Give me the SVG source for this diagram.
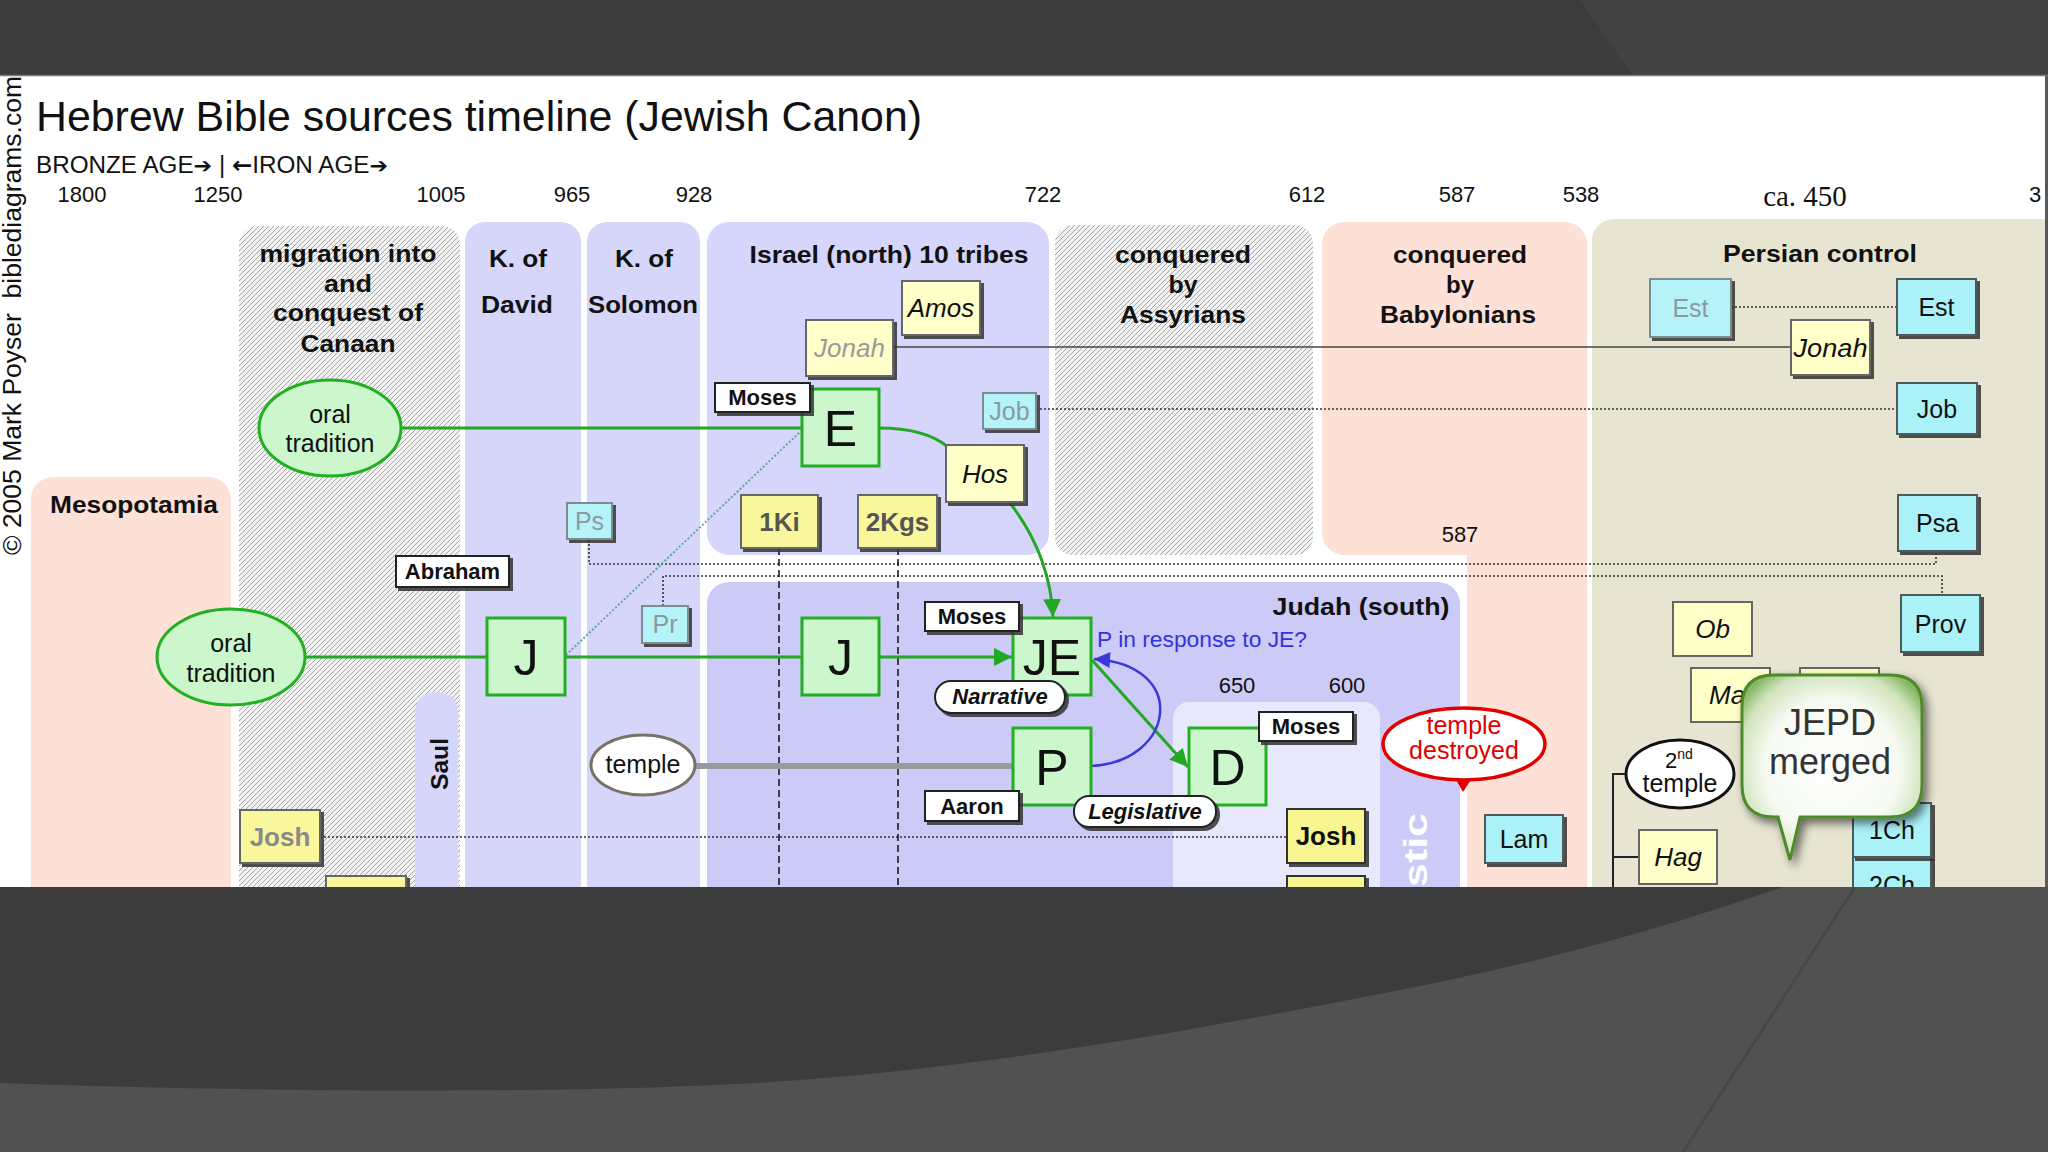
<svg xmlns="http://www.w3.org/2000/svg" width="2048" height="1152" viewBox="0 0 2048 1152">
<style>
text{font-family:"Liberation Sans",Arial,sans-serif;fill:#111}
.yr{font-size:22px;text-anchor:middle}
.rg{font-size:24px;font-weight:bold;text-anchor:middle}
.big{font-size:50px;text-anchor:middle}
.bx{font-size:25px;text-anchor:middle}
.it{font-size:26px;font-style:italic;text-anchor:middle}
.bb{font-size:26px;font-weight:bold;text-anchor:middle}
.lb{font-size:22px;font-weight:bold;text-anchor:middle}
.pl{font-size:22px;font-weight:bold;font-style:italic;text-anchor:middle}
.ar{font-family:"DejaVu Sans",sans-serif;font-weight:bold}
.gr{fill:#8a9aa0}
.gbox{fill:#ccf6cc;stroke:#22b022;stroke-width:3}
.cy{fill:#aaf2f8;stroke:#4f5a5c;stroke-width:2}
.cyf{fill:#b6f3f8;stroke:#7a8e92;stroke-width:2}
.yl{fill:#f9f79c;stroke:#666;stroke-width:2}
.cr{fill:#ffffc9;stroke:#666;stroke-width:2}
.wl{fill:#fff;stroke:#222;stroke-width:2}
.sh{filter:url(#ds)}
.gl{fill:none;stroke:#22a822;stroke-width:3}
.dot{fill:none;stroke:#333;stroke-width:1.6;stroke-dasharray:2 2}
.dash{fill:none;stroke:#111;stroke-width:1.5;stroke-dasharray:7 4}
</style>
<defs>
<filter id="ds" x="-20%" y="-20%" width="150%" height="150%"><feDropShadow dx="3" dy="3" stdDeviation="0.6" flood-color="#333" flood-opacity="0.85"/></filter>
<filter id="soft" x="-20%" y="-20%" width="150%" height="150%"><feDropShadow dx="4" dy="5" stdDeviation="5" flood-color="#000" flood-opacity="0.55"/></filter>
<pattern id="hatch" width="5" height="5" patternUnits="userSpaceOnUse"><rect width="5" height="5" fill="#f2f2f2"/><path d="M0,5 L5,0 M-1,1 L1,-1 M4,6 L6,4" stroke="#a6a6a6" stroke-width="1"/></pattern>
<radialGradient id="jg" cx="0.5" cy="0.5" r="0.62"><stop offset="0" stop-color="#ffffff"/><stop offset="0.6" stop-color="#f6faf1"/><stop offset="0.85" stop-color="#cfe3bc"/><stop offset="1" stop-color="#86b763"/></radialGradient>
<marker id="ga" viewBox="0 0 10 10" refX="10" refY="5" markerWidth="18" markerHeight="18" markerUnits="userSpaceOnUse" orient="auto"><path d="M0,0 L10,5 L0,10 z" fill="#22a822"/></marker>
<marker id="ba" viewBox="0 0 10 10" refX="10" refY="5" markerWidth="20" markerHeight="16" markerUnits="userSpaceOnUse" orient="auto"><path d="M0,0 L10,5 L0,10 z" fill="#3a3ad8"/></marker>
<clipPath id="panel"><rect x="0" y="76" width="2045" height="811"/></clipPath>
</defs>

<!-- slide background -->
<rect width="2048" height="1152" fill="#3c3c3c"/>
<polygon points="1580,0 2048,0 2048,76 1633,76" fill="#424242"/>
<path d="M0,1083 C250,1092 600,1095 800,1080 C1000,1065 1200,1030 1440,982 C1600,948 1700,915 1783,887 L2048,887 L2048,1152 L0,1152 Z" fill="#515151"/>
<path d="M1855,887 L1683,1152" stroke="#474747" stroke-width="3"/>
<rect x="0" y="76" width="2045" height="811" fill="#fff"/>
<line x1="0" y1="75.5" x2="2048" y2="75.5" stroke="#7a7a7a" stroke-width="1.5"/>
<rect x="2045" y="76" width="3" height="811" fill="#5a5a5a"/>

<g clip-path="url(#panel)">
<!-- regions -->
<g id="regions">
<rect x="31" y="477" width="200" height="520" rx="22" fill="#fde0d6"/>
<rect x="239" y="226" width="221" height="760" rx="18" fill="url(#hatch)"/>
<rect x="465" y="222" width="116" height="760" rx="20" fill="#d6d6fb"/>
<rect x="587" y="222" width="113" height="760" rx="20" fill="#d6d6fb"/>
<rect x="707" y="222" width="342" height="333" rx="22" fill="#d6d5fb"/>
<rect x="1055" y="225" width="258" height="330" rx="18" fill="url(#hatch)"/>
<rect x="1322" y="222" width="265" height="333" rx="22" fill="#fde0d6"/>
<rect x="1467" y="400" width="120" height="600" fill="#fde0d6"/>
<rect x="1592" y="219" width="470" height="800" rx="22" fill="#e7e4d2"/>
<rect x="707" y="582" width="753" height="420" rx="22" fill="#cccaf6"/>
<rect x="1173" y="702" width="207" height="300" rx="16" fill="#e8e8fc"/>
<rect x="415" y="692" width="43" height="300" rx="20" fill="#d6d6fb"/>

<text class="rg" x="134" y="513" textLength="168" lengthAdjust="spacingAndGlyphs">Mesopotamia</text>
<text class="rg" x="348" y="262" textLength="177" lengthAdjust="spacingAndGlyphs">migration into</text>
<text class="rg" x="348" y="292" textLength="48" lengthAdjust="spacingAndGlyphs">and</text>
<text class="rg" x="348" y="321" textLength="150" lengthAdjust="spacingAndGlyphs">conquest of</text>
<text class="rg" x="348" y="352" textLength="95" lengthAdjust="spacingAndGlyphs">Canaan</text>
<text class="rg" x="518" y="267" textLength="58" lengthAdjust="spacingAndGlyphs">K. of</text>
<text class="rg" x="517" y="313" textLength="72" lengthAdjust="spacingAndGlyphs">David</text>
<text class="rg" x="644" y="267" textLength="58" lengthAdjust="spacingAndGlyphs">K. of</text>
<text class="rg" x="643" y="313" textLength="110" lengthAdjust="spacingAndGlyphs">Solomon</text>
<text class="rg" x="889" y="263" textLength="279" lengthAdjust="spacingAndGlyphs">Israel (north) 10 tribes</text>
<text class="rg" x="1183" y="263" textLength="136" lengthAdjust="spacingAndGlyphs">conquered</text>
<text class="rg" x="1183" y="293" textLength="29" lengthAdjust="spacingAndGlyphs">by</text>
<text class="rg" x="1183" y="323" textLength="126" lengthAdjust="spacingAndGlyphs">Assyrians</text>
<text class="rg" x="1460" y="263" textLength="134" lengthAdjust="spacingAndGlyphs">conquered</text>
<text class="rg" x="1460" y="293" textLength="28" lengthAdjust="spacingAndGlyphs">by</text>
<text class="rg" x="1458" y="323" textLength="156" lengthAdjust="spacingAndGlyphs">Babylonians</text>
<text class="rg" x="1820" y="262" textLength="194" lengthAdjust="spacingAndGlyphs">Persian control</text>
<text class="rg" x="1361" y="615" textLength="177" lengthAdjust="spacingAndGlyphs">Judah (south)</text>
<text class="rg" transform="translate(448,764) rotate(-90)" x="0" y="0" font-size="25" textLength="52" lengthAdjust="spacingAndGlyphs">Saul</text>
<text transform="translate(1427,887) rotate(-90)" x="0" y="0" font-size="34" font-weight="bold" style="fill:#fff" textLength="74" lengthAdjust="spacingAndGlyphs">stic</text>
</g>

<!-- header texts -->
<g id="header">
<text x="36" y="131" font-size="42" textLength="886" lengthAdjust="spacingAndGlyphs">Hebrew Bible sources timeline (Jewish Canon)</text>
<text x="36" y="173" font-size="23" textLength="352" lengthAdjust="spacingAndGlyphs">BRONZE AGE<tspan class="ar" font-size="21">➔</tspan> | <tspan class="ar" font-size="23">←</tspan>IRON AGE<tspan class="ar" font-size="21">➔</tspan></text>
<text transform="translate(21,555) rotate(-90)" x="0" y="0" font-size="25" textLength="479" lengthAdjust="spacingAndGlyphs">© 2005 Mark Poyser&#160;&#160;biblediagrams.com</text>
<text class="yr" x="82" y="202">1800</text>
<text class="yr" x="218" y="202">1250</text>
<text class="yr" x="441" y="202">1005</text>
<text class="yr" x="572" y="202">965</text>
<text class="yr" x="694" y="202">928</text>
<text class="yr" x="1043" y="202">722</text>
<text class="yr" x="1307" y="202">612</text>
<text class="yr" x="1457" y="202">587</text>
<text class="yr" x="1581" y="202">538</text>
<text x="1805" y="206" font-size="29" text-anchor="middle" style="font-family:'Liberation Serif','Times New Roman',serif">ca. 450</text>
<text x="2029" y="202" font-size="22">3</text>
<text class="yr" x="1460" y="542">587</text>
<text class="yr" x="1237" y="693">650</text>
<text class="yr" x="1347" y="693">600</text>
<text x="1097" y="647" font-size="22" style="fill:#3434d8" textLength="210" lengthAdjust="spacingAndGlyphs">P in response to JE?</text>
</g>

<!-- connectors -->
<g id="connectors">
<path class="dot" d="M589,540 V564 H1936 V552"/>
<path class="dot" d="M663,606 V576 H1942 V595"/>
<path class="dot" d="M1036,409 H1897"/>
<path class="dot" d="M1731,307 H1897"/>
<path class="dot" d="M320,837 H1287"/>
<path d="M893,347 H1791" stroke="#444" stroke-width="1.5" fill="none"/>
<path class="dash" d="M779,548 V890"/>
<path class="dash" d="M898,548 V890"/>
<path d="M566,655 L800,432" stroke="#5fa898" stroke-width="2" stroke-dasharray="2 2" fill="none"/>
<path d="M695,766 H1013" stroke="#9a9a9a" stroke-width="6" fill="none"/>
<path class="gl" d="M402,428 H802"/>
<path class="gl" d="M305,657 H487"/>
<path class="gl" d="M565,657 H802"/>
<path class="gl" d="M879,657 H1012" marker-end="url(#ga)"/>
<path class="gl" d="M879,428 Q925,428 948,447"/>
<path class="gl" d="M1010,503 Q1050,555 1053,617" marker-end="url(#ga)"/>
<path class="gl" d="M1092,660 L1188,767" marker-end="url(#ga)"/>
<path d="M1091,766 C1175,762 1190,665 1094,659" stroke="#3a3ad8" stroke-width="2.5" fill="none" marker-end="url(#ba)"/>
<path d="M1626,774 H1613 V890 M1613,857 H1639" stroke="#222" stroke-width="2" fill="none"/>
</g>

<!-- nodes -->
<g id="oral1"><ellipse class="gbox" cx="330" cy="428" rx="71" ry="48"/><text class="bx" x="330" y="423" font-size="26">oral</text><text class="bx" x="330" y="452" font-size="26">tradition</text></g>
<g id="oral2"><ellipse class="gbox" cx="231" cy="657" rx="74" ry="48"/><text class="bx" x="231" y="652" font-size="26">oral</text><text class="bx" x="231" y="682" font-size="26">tradition</text></g>
<g id="temple"><ellipse cx="643" cy="765" rx="52" ry="30" fill="#fff" stroke="#7a7268" stroke-width="3"/><text class="bx" x="643" y="773" font-size="23">temple</text></g>

<g id="E"><rect class="gbox" x="802" y="389" width="77" height="77"/><text class="big" x="840.5" y="446">E</text></g>
<g id="J1"><rect class="gbox" x="487" y="618" width="78" height="77"/><text class="big" x="526" y="675">J</text></g>
<g id="J2"><rect class="gbox" x="802" y="618" width="77" height="77"/><text class="big" x="840.5" y="675">J</text></g>
<g id="JE"><rect class="gbox" x="1013" y="618" width="78" height="77"/><text class="big" x="1052" y="675">JE</text></g>
<g id="P"><rect class="gbox" x="1013" y="728" width="78" height="77"/><text class="big" x="1052" y="785">P</text></g>
<g id="D"><rect class="gbox" x="1189" y="728" width="77" height="77"/><text class="big" x="1227.5" y="785">D</text></g>

<g id="Ps"><rect class="cyf sh" x="567" y="503" width="45" height="36"/><text class="bx gr" x="589.5" y="530" font-size="22">Ps</text></g>
<g id="Pr"><rect class="cyf sh" x="642" y="606" width="46" height="37"/><text class="bx gr" x="665" y="633" font-size="22">Pr</text></g>
<g id="JobF"><rect class="cyf sh" x="983" y="393" width="53" height="36"/><text class="bx gr" x="1009.5" y="420" font-size="23">Job</text></g>
<g id="EstF"><rect class="cyf sh" x="1650" y="279" width="81" height="58"/><text class="bx gr" x="1690.5" y="317">Est</text></g>
<g id="Est"><rect class="cy sh" x="1897" y="279" width="79" height="56"/><text class="bx" x="1936.5" y="316">Est</text></g>
<g id="Job"><rect class="cy sh" x="1897" y="383" width="80" height="51"/><text class="bx" x="1937" y="418">Job</text></g>
<g id="Psa"><rect class="cy sh" x="1898" y="495" width="79" height="56"/><text class="bx" x="1937.5" y="532">Psa</text></g>
<g id="Prov"><rect class="cy sh" x="1901" y="595" width="79" height="57"/><text class="bx" x="1940.5" y="633">Prov</text></g>
<g id="Lam"><rect class="cy sh" x="1485" y="815" width="78" height="48"/><text class="bx" x="1524" y="848">Lam</text></g>
<g id="Ch2"><rect class="cy sh" x="1853" y="857" width="78" height="50"/><text class="bx" x="1892" y="894">2Ch</text></g>
<g id="Ch1"><rect class="cy sh" x="1853" y="803" width="78" height="54"/><text class="bx" x="1892" y="839">1Ch</text></g>

<g id="Amos"><rect class="cr sh" x="902" y="281" width="78" height="54"/><text class="it" x="941" y="317" font-size="25">Amos</text></g>
<g id="JonahF"><rect class="cr sh" x="806" y="320" width="87" height="56"/><text class="it" x="849.5" y="357" style="fill:#9a9a9a">Jonah</text></g>
<g id="Jonah"><rect class="cr sh" x="1791" y="320" width="79" height="55"/><text class="it" x="1830.5" y="357" textLength="74" lengthAdjust="spacingAndGlyphs">Jonah</text></g>
<g id="Hos"><rect class="cr sh" x="946" y="445" width="78" height="57"/><text class="it" x="985" y="483" font-size="25">Hos</text></g>
<g id="Ki1"><rect class="yl sh" x="741" y="495" width="77" height="53"/><text class="bb" x="779.5" y="531" style="fill:#555">1Ki</text></g>
<g id="Kgs2"><rect class="yl sh" x="858" y="495" width="79" height="53"/><text class="bb" x="897.5" y="531" style="fill:#555">2Kgs</text></g>
<g id="JoshL"><rect class="yl sh" x="240" y="810" width="80" height="53"/><text class="bb" x="280" y="846" style="fill:#8a8a8a">Josh</text></g>
<g id="JoshL2"><rect class="yl sh" x="326" y="876" width="80" height="40"/></g>
<g id="JoshR"><rect class="sh" x="1287" y="809" width="78" height="54" fill="#f8f690" stroke="#333" stroke-width="2"/><text class="bb" x="1326" y="845">Josh</text></g>
<g id="JoshR2"><rect class="sh" x="1287" y="876" width="78" height="40" fill="#f8f690" stroke="#333" stroke-width="2"/></g>
<g id="Ob"><rect class="cr" x="1673" y="602" width="79" height="54"/><text class="it" x="1712.5" y="638">Ob</text></g>
<g id="Ma"><rect class="cr" x="1691" y="668" width="79" height="54"/><text class="it" x="1709" y="704" style="text-anchor:start">Ma</text></g>
<g id="hidden"><rect class="cr" x="1800" y="668" width="79" height="54"/></g>
<g id="Hag"><rect class="cr" x="1639" y="830" width="78" height="54"/><text class="it" x="1678" y="866">Hag</text></g>

<g id="temple2"><ellipse cx="1680" cy="774" rx="54" ry="34" fill="#fff" stroke="#111" stroke-width="3"/><text x="1665" y="768" font-size="22">2<tspan font-size="14" dy="-9">nd</tspan></text><text class="bx" x="1680" y="792" font-size="22">temple</text></g>

<g id="destroyed"><path d="M1455,778 L1463,792 L1472,778 Z" fill="#e00000"/><ellipse cx="1464" cy="744" rx="81" ry="36" fill="#fff" stroke="#e00000" stroke-width="3.5"/><text class="bx" x="1464" y="734" font-size="22" style="fill:#e00000">temple</text><text class="bx" x="1464" y="759" font-size="22" style="fill:#e00000">destroyed</text></g>

<g id="labels">
<g id="MosesE"><rect class="wl sh" x="715" y="383" width="95" height="29"/><text class="lb" x="762.5" y="405">Moses</text></g>
<g id="MosesJE"><rect class="wl sh" x="925" y="602" width="94" height="29"/><text class="lb" x="972" y="624">Moses</text></g>
<g id="MosesD"><rect class="wl sh" x="1259" y="712" width="94" height="29"/><text class="lb" x="1306" y="734">Moses</text></g>
<g id="Aaron"><rect class="wl sh" x="925" y="791" width="94" height="30"/><text class="lb" x="972" y="814">Aaron</text></g>
<g id="Abraham"><rect class="wl sh" x="396" y="556" width="113" height="31"/><text class="lb" x="452.5" y="579">Abraham</text></g>
<g id="Narrative"><rect class="wl sh" x="935" y="681" width="130" height="32" rx="16"/><text class="pl" x="1000" y="704">Narrative</text></g>
<g id="Legislative"><rect class="wl sh" x="1074" y="796" width="142" height="31" rx="15"/><text class="pl" x="1145" y="819">Legislative</text></g>
</g>

<g id="JEPD"><path filter="url(#soft)" d="M1774,675 H1890 Q1922,675 1922,707 V785 Q1922,817 1890,817 H1800 L1790,860 L1778,817 H1774 Q1742,817 1742,785 V707 Q1742,675 1774,675 Z" fill="url(#jg)" stroke="#4e8a2a" stroke-width="3"/><text x="1830" y="735" font-size="36" text-anchor="middle" style="fill:#333">JEPD</text><text x="1830" y="774" font-size="36" text-anchor="middle" style="fill:#333">merged</text></g>
</g>
</svg>
